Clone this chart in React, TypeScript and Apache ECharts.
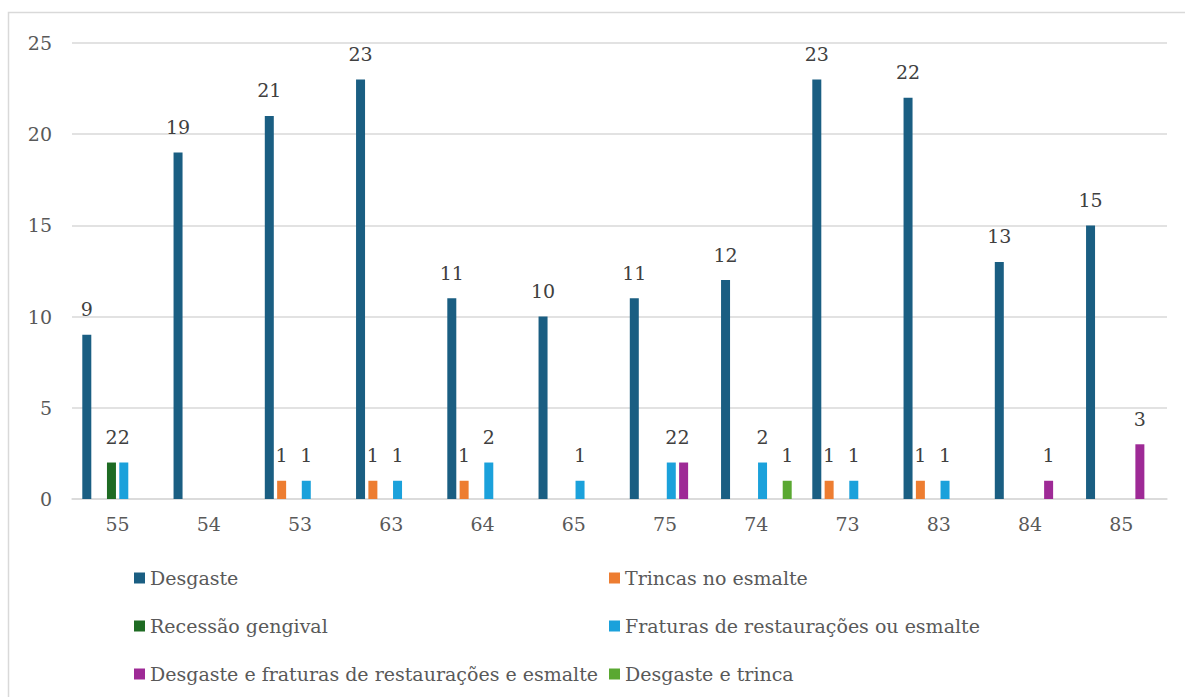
import React, { useEffect, useRef } from "react";
import * as echarts from "echarts";

const categories = ["55", "54", "53", "63", "64", "65", "75", "74", "73", "83", "84", "85"];
const seriesNames = [
  "Desgaste",
  "Trincas no esmalte",
  "Recessão gengival",
  "Fraturas de restaurações ou esmalte",
  "Desgaste e fraturas de restaurações e esmalte",
  "Desgaste e trinca",
];
const desgaste = [9, 19, 21, 23, 11, 10, 11, 12, 23, 22, 13, 15];
const trincas = [0, 0, 1, 1, 1, 0, 0, 0, 1, 1, 0, 0];
const recessao = [2, 0, 0, 0, 0, 0, 0, 0, 0, 0, 0, 0];
const fraturas = [2, 0, 1, 1, 2, 1, 2, 2, 1, 1, 0, 0];
const desgasteFraturas = [0, 0, 0, 0, 0, 0, 2, 0, 0, 0, 1, 3];
const desgasteTrinca = [0, 0, 0, 0, 0, 0, 0, 1, 0, 0, 0, 0];
const colors = ["#1a5e82", "#ed7d31", "#1e6b23", "#1ba1db", "#9e2a96", "#5aa832"];
const seriesData = [desgaste, trincas, recessao, fraturas, desgasteFraturas, desgasteTrinca];

const FONT = "DejaVu Serif";
const FS = 19;

export default function App() {
  const ref = useRef<HTMLDivElement>(null);
  useEffect(() => {
    if (!ref.current) return;
    const chart = echarts.init(ref.current, undefined, { renderer: "svg" });
    const legendText = { fontFamily: FONT, fontSize: FS, color: "#595959", lineHeight: 22 };
    chart.setOption({
      animation: false,
      backgroundColor: "#ffffff",
      color: colors,
      textStyle: { fontFamily: FONT },
      grid: { left: 72, right: 18, top: 43, bottom: 198, containLabel: false },
      legend: [
        {
          data: [seriesNames[0], seriesNames[2], seriesNames[4]],
          orient: "vertical",
          left: 134,
          top: 567,
          itemWidth: 11,
          itemHeight: 11,
          itemGap: 26,
          textStyle: legendText,
          icon: "rect",
          padding: 0,
        },
        {
          data: [seriesNames[1], seriesNames[3], seriesNames[5]],
          orient: "vertical",
          left: 609,
          top: 567,
          itemWidth: 11,
          itemHeight: 11,
          itemGap: 26,
          textStyle: legendText,
          icon: "rect",
          padding: 0,
        },
      ],
      graphic: [
        {
          type: "rect",
          shape: { x: 8.5, y: 12.5, width: 1200, height: 700 },
          style: { fill: "none", stroke: "#d9d9d9", lineWidth: 1.5 },
          silent: true,
        },
      ],
      xAxis: {
        type: "category",
        data: categories,
        axisLine: { lineStyle: { color: "#d9d9d9", width: 1.5 } },
        axisTick: { show: false },
        axisLabel: { fontFamily: FONT, fontSize: FS, color: "#595959", margin: 15 },
      },
      yAxis: {
        type: "value",
        min: 0,
        max: 25,
        interval: 5,
        axisLine: { show: false },
        axisTick: { show: false },
        splitLine: { lineStyle: { color: "#d9d9d9", width: 1.5 } },
        axisLabel: { fontFamily: FONT, fontSize: FS, color: "#595959", margin: 20 },
      },
      series: seriesNames.map((name, i) => ({
        name,
        type: "bar",
        data: seriesData[i],
        barWidth: 9,
        barGap: "37%",
        itemStyle: { color: colors[i] },
        label: {
          show: true,
          position: "top",
          distance: 16,
          fontFamily: FONT,
          fontSize: FS,
          color: "#404040",
          formatter: (p: any) => (p.value ? String(p.value) : ""),
        },
      })),
    });
    return () => chart.dispose();
  }, []);
  return (
    <div
      ref={ref}
      style={{ position: "absolute", left: 0, top: 0, width: 1185, height: 697 }}
    />
  );
}
